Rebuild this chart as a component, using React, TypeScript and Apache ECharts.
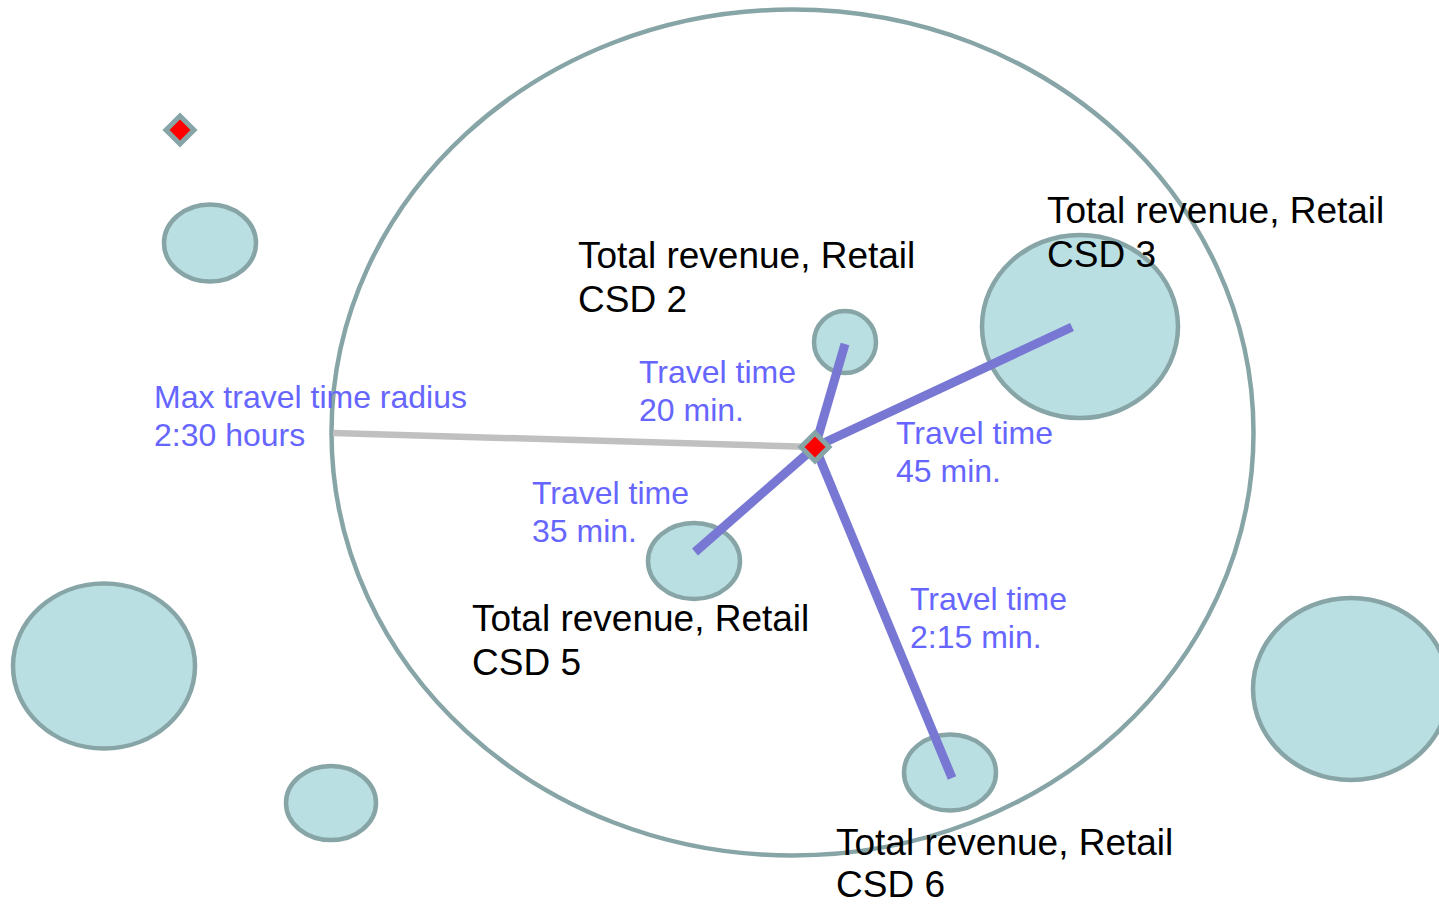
import React, { useEffect, useRef } from "react";
import * as echarts from "echarts";

// Outer reach ellipse (max travel time radius): [cx, cy, rx, ry]
const reachZone = [[792.5, 432.5, 461, 423]];

// Customer service districts (zones): centre x, centre y, radius x, radius y
const zoneCx = [210, 845, 1080, 694, 104, 331, 950, 1351];
const zoneCy = [243, 342, 326.5, 561, 666, 803, 772.5, 689];
const zoneRx = [46, 31, 98, 46, 91, 45, 46, 98];
const zoneRy = [38.5, 31, 91.5, 38, 82.5, 37, 38, 91];

// Sites (red diamonds)
const sites = [
  [180, 130],
  [815, 447],
];

// Hub and connections
const hub = [815, 447];
const radiusEnd = [333, 433];
const travelEnds = [
  [845, 344],
  [1072, 327],
  [695, 552],
  [952, 778],
];

// Labels
const districtLabels = [
  "Total revenue, Retail\nCSD 2",
  "Total revenue, Retail\nCSD 3",
  "Total revenue, Retail\nCSD 5",
  "Total revenue, Retail\nCSD 6",
];
const districtLabelX = [578, 1047, 472, 836];
const districtLabelY = [255, 210, 618, 842];
const districtLineGap = [44, 44, 44, 42];

const travelLabels = [
  "Max travel time radius\n2:30 hours",
  "Travel time\n20 min.",
  "Travel time\n45 min.",
  "Travel time\n35 min.",
  "Travel time\n2:15 min.",
];
const travelLabelX = [154, 639, 896, 532, 910];
const travelLabelY = [397, 372, 433, 493, 599];

const FONT = "'Liberation Sans', Arial, Helvetica, sans-serif";
const STROKE = "#87A5A6";
const FILL = "#B9DFE2";
const PURPLE_LINE = "#7878D4";
const PURPLE_TEXT = "#6666FF";

export default function App() {
  const ref = useRef<HTMLDivElement>(null);

  useEffect(() => {
    if (!ref.current) return;
    const chart = echarts.init(ref.current, null, { renderer: "svg" });

    const ellipseRender = (fill: string, lw: number) => (params: any, api: any) => {
      const c = api.coord([api.value(0), api.value(1)]);
      const s = api.size([api.value(2), api.value(3)]);
      return {
        type: "ellipse",
        shape: { cx: c[0], cy: c[1], rx: Math.abs(s[0]), ry: Math.abs(s[1]) },
        style: { fill, stroke: STROKE, lineWidth: lw },
        silent: true,
      };
    };

    const zoneData = zoneCx.map((x, i) => [x, zoneCy[i], zoneRx[i], zoneRy[i]]);

    const segData = [
      [radiusEnd[0], radiusEnd[1], hub[0], hub[1], 0],
      ...travelEnds.map((e) => [hub[0], hub[1], e[0], e[1], 1]),
    ];

    const textData = [
      ...districtLabels.map((_, i) => [districtLabelX[i], districtLabelY[i], 0, i]),
      ...travelLabels.map((_, i) => [travelLabelX[i], travelLabelY[i], 1, i]),
    ];

    chart.setOption({
      animation: false,
      grid: { left: 0, right: 0, top: 0, bottom: 0 },
      xAxis: { type: "value", min: 0, max: 1439, show: false },
      yAxis: { type: "value", min: 0, max: 905, inverse: true, show: false },
      series: [
        {
          type: "custom",
          z: 1,
          clip: false,
          silent: true,
          data: reachZone,
          renderItem: ellipseRender("none", 4.5),
        },
        {
          type: "custom",
          z: 2,
          clip: false,
          silent: true,
          data: zoneData,
          renderItem: ellipseRender(FILL, 4.5),
        },
        {
          type: "custom",
          z: 3,
          clip: false,
          silent: true,
          data: segData,
          renderItem: (params: any, api: any) => {
            const a = api.coord([api.value(0), api.value(1)]);
            const b = api.coord([api.value(2), api.value(3)]);
            const kind = api.value(4);
            return {
              type: "line",
              shape: { x1: a[0], y1: a[1], x2: b[0], y2: b[1] },
              style: {
                stroke: kind === 0 ? "#C0C0C0" : PURPLE_LINE,
                lineWidth: kind === 0 ? 6.5 : 9,
                lineCap: "butt",
              },
              silent: true,
            };
          },
        },
        {
          type: "scatter",
          z: 4,
          silent: true,
          symbol: "diamond",
          symbolSize: 28,
          itemStyle: { color: "#FF0000", borderColor: STROKE, borderWidth: 5, opacity: 1 },
          data: sites,
        },
        {
          type: "custom",
          z: 5,
          clip: false,
          silent: true,
          data: textData,
          renderItem: (params: any, api: any) => {
            const p = api.coord([api.value(0), api.value(1)]);
            const kind = api.value(2);
            const idx = api.value(3);
            const isDistrict = kind === 0;
            const gap = isDistrict ? districtLineGap[idx] : 38;
            const fontSize = isDistrict ? 37 : 32;
            const lines = (isDistrict ? districtLabels[idx] : travelLabels[idx]).split("\n");
            return {
              type: "group",
              silent: true,
              children: lines.map((t: string, li: number) => ({
                type: "text",
                x: p[0],
                y: p[1] + li * gap,
                silent: true,
                style: {
                  text: t,
                  fill: isDistrict ? "#000000" : PURPLE_TEXT,
                  fontFamily: FONT,
                  fontSize,
                  lineHeight: Math.round(fontSize * 0.8),
                  align: "left",
                  verticalAlign: "middle",
                },
              })),
            };
          },
        },
      ],
    });

    return () => chart.dispose();
  }, []);

  return (
    <div
      ref={ref}
      style={{ position: "fixed", left: 0, top: 0, width: 1439, height: 905, background: "#ffffff" }}
    />
  );
}
